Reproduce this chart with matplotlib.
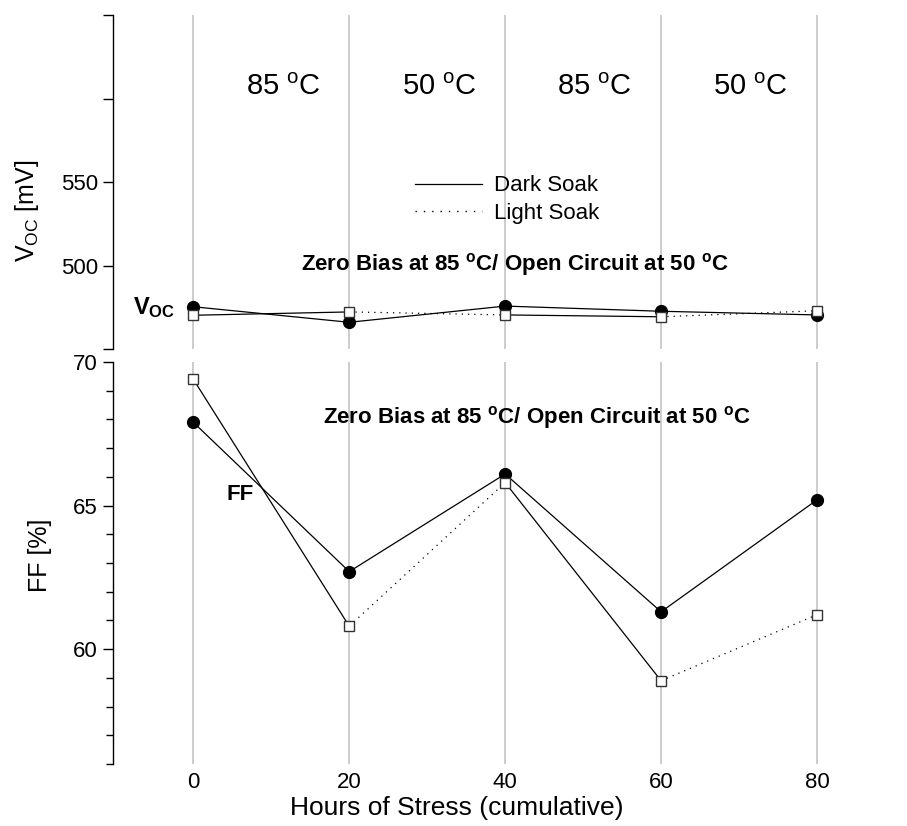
import matplotlib.pyplot as plt
from matplotlib.lines import Line2D

# stress data: Voc and FF after dark / light soak
hours = [0, 20, 40, 60, 80]
voc_dark = [475.3, 466.0, 475.7, 472.6, 470.4]
voc_light = [470.2, 472.2, 470.4, 469.3, 472.9]
ff_dark = [67.9, 62.7, 66.1, 61.3, 65.2]
ff_light = [69.4, 60.8, 65.8, 58.9, 61.2]

# temperature of each 20 h stress interval
temps = ['85', '50', '85', '50']

voc_ticks = [450, 500, 550, 600, 650]
voc_ticklabels = ['', '500', '550', '', '']
ff_ticks = [60, 65, 70]

title = 'Zero Bias at 85 $^{\\mathbf{o}}$C/ Open Circuit at 50 $^{\\mathbf{o}}$C'

plt.rcParams['font.family'] = ['Liberation Sans', 'DejaVu Sans']
plt.rcParams['mathtext.fontset'] = 'custom'
plt.rcParams['mathtext.rm'] = 'Liberation Sans'
plt.rcParams['mathtext.it'] = 'Liberation Sans'
plt.rcParams['mathtext.bf'] = 'Liberation Sans:bold'

W, H = 907, 826
fig = plt.figure(figsize=(W / 100, H / 100), dpi=100)
ax1 = fig.add_axes([113 / W, 1 - 349 / H, 743 / W, 334 / H])
ax2 = fig.add_axes([113 / W, 1 - 764 / H, 743 / W, 402 / H], sharex=ax1)

grey = '#c8c8c8'


def draw_series(ax, dark, light):
    ax.plot(hours, dark, color='black', lw=0.9, marker='o', ms=8.5,
            mfc='black', mec='black', zorder=3)
    # light soak: solid over the 85 C intervals, dotted over the 50 C ones
    for i, t in enumerate(temps):
        ls = '-' if t == '85' else (0, (1, 4))
        ax.plot(hours[i:i + 2], light[i:i + 2], color='black', lw=0.9,
                ls=ls, zorder=4)
    ax.plot(hours, light, ls='none', marker='s', ms=7.5, mfc='white',
            mec='#333333', mew=1.0, zorder=5)


for ax in (ax1, ax2):
    for s in ('top', 'right', 'bottom'):
        ax.spines[s].set_visible(False)
    ax.spines['left'].set_linewidth(1.0)
    ax.set_xticks(hours)
    ax.xaxis.grid(True, color=grey, lw=1.3)
    ax.set_axisbelow(True)
    ax.tick_params(axis='y', direction='out', length=7, width=1.0,
                   labelsize=16, pad=4)
    ax.tick_params(axis='x', length=0)

ax1.set_xlim(-10.3, 85)

# upper panel: Voc
draw_series(ax1, voc_dark, voc_light)
ax1.set_ylim(450, 650)
ax1.set_yticks(voc_ticks)
ax1.set_yticklabels(voc_ticklabels)
ax1.tick_params(axis='x', labelbottom=False)
ax1.set_ylabel('V$_{\\mathrm{OC}}$ [mV]', fontsize=18)
ax1.yaxis.set_label_coords(-0.097, 0.413)

for i, t in enumerate(temps):
    xm = (hours[i] + hours[i + 1]) / 2 + 1.5
    ax1.text(xm, 607, t + ' $^{\\mathrm{o}}$C', fontsize=21,
             ha='center', va='center')

ax1.text(41.2, 500.3, title, fontsize=16, fontweight='bold',
         family=['Liberation Sans Narrow', 'Liberation Sans'],
         ha='center', va='center')
ax1.text(-5, 475, 'V$_{\\mathbf{OC}}$', fontsize=17, fontweight='bold',
         ha='center', va='center')

handles = [Line2D([], [], color='black', lw=0.9),
           Line2D([], [], color='black', lw=1.0, ls=(0, (1, 5)))]
ax1.legend(handles, ['Dark Soak', 'Light Soak'], loc='upper left',
           bbox_to_anchor=(0.4065, 0.52), frameon=False, fontsize=16,
           handlelength=3.0, handletextpad=0.55, labelspacing=0.3,
           borderpad=0, borderaxespad=0)

# lower panel: fill factor
draw_series(ax2, ff_dark, ff_light)
ax2.set_ylim(56, 70)
ax2.set_yticks(ff_ticks)
ax2.set_yticks(range(56, 71), minor=True)
ax2.tick_params(axis='y', which='minor', direction='out', length=5,
                width=1.0)
ax2.tick_params(axis='x', labelsize=16, pad=6)
ax2.set_ylabel('FF [%]', fontsize=18)
ax2.yaxis.set_label_coords(-0.082, 0.52)
ax2.set_xlabel('Hours of Stress (cumulative)', fontsize=19)
ax2.xaxis.set_label_coords(0.463, -0.08)

ax2.text(44, 68.05, title, fontsize=16, fontweight='bold',
         family=['Liberation Sans Narrow', 'Liberation Sans'],
         ha='center', va='center')
ax2.text(6.0, 65.4, 'FF', fontsize=16, fontweight='bold',
         ha='center', va='center')

fig.savefig('out.png', dpi=100)
